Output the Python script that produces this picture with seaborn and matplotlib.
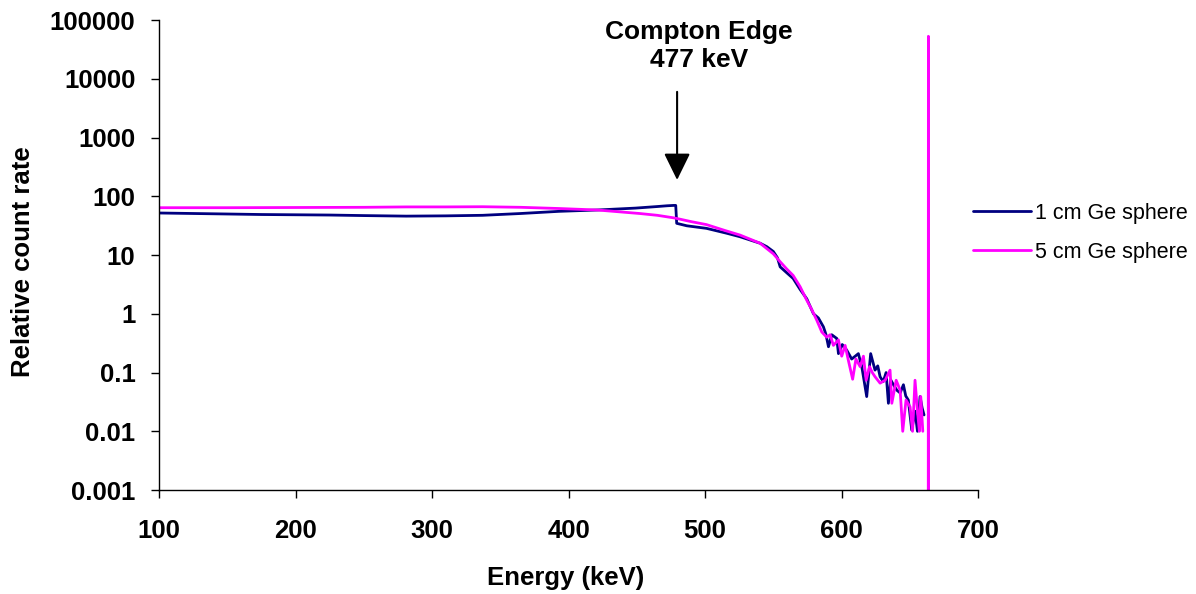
import matplotlib
matplotlib.use("Agg")
import matplotlib.pyplot as plt
from matplotlib.ticker import NullLocator
import seaborn as sns

# 1 cm Ge sphere (energy in keV, relative count rate)
energy_1cm = [100, 125, 150, 175, 200, 225, 250, 281, 310, 337, 365, 393, 421, 449, 465, 472, 477, 478.5,
              479.2, 486.6, 501.0, 515.9, 525.6, 540.3, 545.2, 550.0, 553.0, 555.0, 559.8,
              564.5, 569.6, 574.5, 579.4, 583.0, 586.7, 588.5, 590.4, 592.8, 596.5, 597.7,
              600.5, 603.8, 607.4, 610.0, 612.3, 614.8, 618.4, 621.3, 624.5, 626.5,
              628.2, 630.5, 632.6, 634.3, 636.0, 638.0, 640.5, 642.9, 645.3, 647.0,
              648.9, 651.4, 653.8, 655.6, 657.5, 659.0, 660.4]
rate_1cm = [52, 51, 50, 49, 48.5, 48, 47, 46, 46.5, 47.5, 51, 55.5, 58.5, 63, 67, 69, 70, 70,
            34.7, 31.5, 28.5, 23.5, 20.5, 15.9, 13.9, 11.5, 9.0, 6.3, 5.0,
            4.0, 2.6, 1.8, 1.0, 0.85, 0.6, 0.45, 0.275, 0.44, 0.38, 0.21,
            0.30, 0.24, 0.17, 0.19, 0.21, 0.126, 0.039, 0.21, 0.11, 0.13,
            0.085, 0.07, 0.10, 0.030, 0.075, 0.062, 0.05, 0.045, 0.062, 0.04,
            0.034, 0.0105, 0.022, 0.01, 0.039, 0.025, 0.019]

# 5 cm Ge sphere
energy_5cm = [100, 150, 200, 250, 281, 310, 337, 365, 393, 421, 452, 465, 477, 479.2, 490, 501,
              515, 525.6, 540.3, 550.0, 555.0, 559.8, 564.5, 569.6, 574.5, 578.0, 581.8, 585.5,
              589.1, 591.6, 594.0, 597.7, 600.1, 602.6, 605.0, 608.1, 610.5, 613.6,
              616.0, 618.0, 620.5, 622.5, 624.5, 628.2, 631.9, 635.5, 636.8, 640.0,
              642.9, 644.8, 647.2, 650.2, 652.0, 653.8, 655.6, 657.0, 658.0, 659.5]
rate_5cm = [64, 64, 64.5, 65, 66, 66, 66.5, 65, 62, 58.5, 51, 47.5, 43, 42, 37, 33,
            26, 21.9, 15.9, 10.5, 7.7, 5.8, 4.5, 2.9, 1.7, 1.2, 0.78, 0.49,
            0.40, 0.44, 0.29, 0.36, 0.19, 0.29, 0.16, 0.077, 0.17, 0.126,
            0.19, 0.074, 0.126, 0.10, 0.085, 0.066, 0.074, 0.11, 0.030, 0.074,
            0.05, 0.01, 0.034, 0.026, 0.01, 0.074, 0.022, 0.01, 0.039, 0.01]

# full-energy peak of the 5 cm sphere
peak_energy = [663.5, 663.6, 663.7]
peak_rate = [0.0005, 53000, 0.0005]

x_ticks = [100, 200, 300, 400, 500, 600, 700]
y_ticks = [0.001, 0.01, 0.1, 1, 10, 100, 1000, 10000, 100000]
y_tick_labels = ["0.001", "0.01", "0.1", "1", "10", "100", "1000", "10000", "100000"]

sns.set_style("ticks")
plt.rcParams['font.family'] = ['Liberation Sans', 'DejaVu Sans']
plt.rcParams['text.color'] = 'black'
plt.rcParams['axes.labelcolor'] = 'black'
plt.rcParams['xtick.color'] = 'black'
plt.rcParams['ytick.color'] = 'black'

fig = plt.figure(figsize=(11.96, 5.94), dpi=100)
ax = fig.add_axes([0.133, 0.175, 0.6848, 0.7912])

navy = "#000080"
magenta = "#FF00FF"

sns.lineplot(x=energy_1cm, y=rate_1cm, color=navy, linewidth=2.0, estimator=None, sort=False,
             label="1 cm Ge sphere", ax=ax)
sns.lineplot(x=energy_5cm, y=rate_5cm, color=magenta, linewidth=2.0, estimator=None, sort=False,
             label="5 cm Ge sphere", ax=ax)
sns.lineplot(x=peak_energy, y=peak_rate, color=magenta, linewidth=2.0, estimator=None, sort=False,
             ax=ax)

ax.set_yscale("log")
ax.set_xlim(100, 700)
ax.set_ylim(0.001, 100000)
ax.set_xticks(x_ticks)
ax.set_yticks(y_ticks)
ax.set_yticklabels(y_tick_labels)
ax.yaxis.set_minor_locator(NullLocator())

ax.tick_params(axis="both", labelsize=18.5, direction="out", length=6, width=1, color="black",
               labelcolor="black")
ax.tick_params(axis="x", pad=15)
ax.tick_params(axis="y", pad=11)
for lbl in ax.get_xticklabels() + ax.get_yticklabels():
    lbl.set_fontweight("bold")

sns.despine(ax=ax)
for side in ["left", "bottom"]:
    ax.spines[side].set_color("black")
    ax.spines[side].set_linewidth(1)

ax.set_xlabel("Energy (keV)", fontsize=18.5, fontweight="bold")
ax.set_ylabel("Relative count rate", fontsize=18.5, fontweight="bold")
ax.xaxis.set_label_coords(0.497, -0.162)
ax.xaxis.label.set_va("top")
ax.yaxis.set_label_coords(-0.151, 0.485)

# Compton edge marker
ax.annotate("", xy=(479.5, 190), xytext=(479.5, 6000),
            arrowprops=dict(arrowstyle="-|>,head_length=0.55,head_width=0.27", color="black",
                            lw=1.5, mutation_scale=30, shrinkA=0, shrinkB=0))
ax.text(495.6, 36000, "Compton Edge\n477 keV", ha="center", va="center", fontsize=19,
        fontweight="bold")

ax.legend(loc="center left", bbox_to_anchor=(0.8135, 0.608), bbox_transform=fig.transFigure,
          frameon=False, fontsize=15.5, handlelength=2.7, handletextpad=0.2, labelspacing=0.85,
          borderpad=0, borderaxespad=0)

fig.savefig("out.png", dpi=100)
